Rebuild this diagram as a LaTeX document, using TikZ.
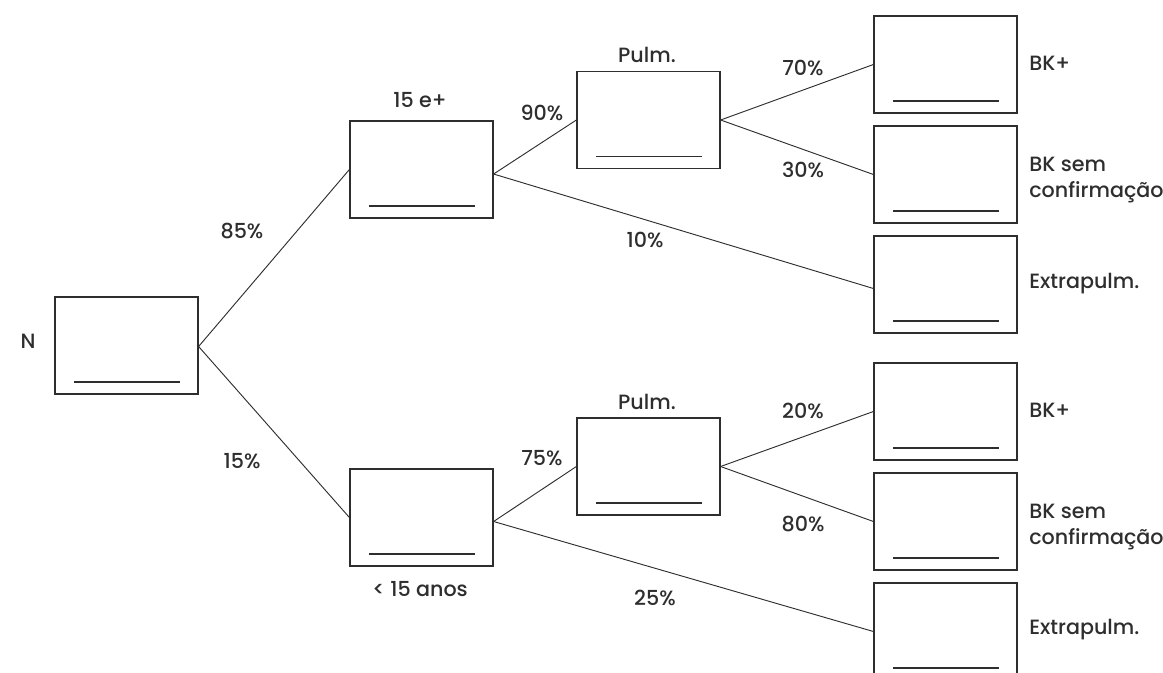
\documentclass[tikz,border=0pt]{standalone}
\usepackage{fontspec}
\setmainfont{Poppins}[UprightFont=* Medium]
\definecolor{ink}{HTML}{2E2E2E}
\begin{document}
\begin{tikzpicture}[x=0.75pt,y=-0.75pt,
  box/.style={draw=ink, line width=0.9pt, rectangle, inner sep=0pt,
    minimum width=107.25pt, minimum height=72.75pt,
    path picture={\draw[ink, line width=0.9pt]
      ([shift={(19,-12)}]path picture bounding box.south west) --
      ([shift={(-18,-12)}]path picture bounding box.south east);}},
  conn/.style={draw=ink, line width=0.7pt},
  lbl/.style={text=ink, inner sep=0pt, font=\fontsize{15.5}{19}\selectfont},
  rlbl/.style={lbl, anchor=west, align=left}]
\useasboundingbox (0,0) rectangle (1163,673);
\clip (0,0) rectangle (1163,673);
% boxes
\node[box] (n) at (126.5,345.5) {};
\node[box] (a1) at (421.5,169.5) {};
\node[box] (b1) at (421.5,517.5) {};
\node[box] (a2) at (648.5,120) {};
\node[box] (b2) at (648.5,466.5) {};
\node[box] (a3) at (945.5,64.5) {};
\node[box] (a4) at (945.5,174.5) {};
\node[box] (a5) at (945.5,284.5) {};
\node[box] (b3) at (945.5,411.5) {};
\node[box] (b4) at (945.5,521.5) {};
\node[box] (b5) at (945.5,631.5) {};
% branch points
\coordinate (na) at ([yshift=-0.75pt]n.east);
\coordinate (aa) at ([yshift=-3.4pt]a1.east);
\coordinate (bb) at ([yshift=-3pt]b1.east);
\coordinate (a2e) at (a2.east);
\coordinate (b2e) at (b2.east);
% connectors
\draw[conn] (na) -- (a1.west);
\draw[conn] (na) -- (b1.west);
\draw[conn] (aa) -- (a2.west);
\draw[conn] (aa) -- ([yshift=-3pt]a5.west);
\draw[conn] (bb) -- (b2.west);
\draw[conn] (bb) -- (b5.west);
\draw[conn] (a2e) -- (a3.west);
\draw[conn] (a2e) -- (a4.west);
\draw[conn] (b2e) -- (b3.west);
\draw[conn] (b2e) -- (b4.west);
% labels
\node[lbl] (tn) at (28,341) {N};
\node[lbl] (t85) at (242,231) {85\%};
\node[lbl] (t15) at (242,461) {15\%};
\node[lbl] (t15e) at (420,100) {15 e+};
\node[lbl] (t15a) at (420,589) {< 15 anos};
\node[lbl] (t90) at (542,113) {90\%};
\node[lbl] (t75) at (542,458) {75\%};
\node[lbl] (tp1) at (647,55) {Pulm.};
\node[lbl] (tp2) at (647,402) {Pulm.};
\node[lbl] (t70) at (803,68) {70\%};
\node[lbl] (t30) at (803,170) {30\%};
\node[lbl] (t10) at (645,240) {10\%};
\node[lbl] (t20) at (803,411) {20\%};
\node[lbl] (t80) at (803,524) {80\%};
\node[lbl] (t25) at (655,598) {25\%};
\node[rlbl] (r1) at (1029,63) {BK+};
\node[rlbl] (r2) at (1029,180) {BK sem\\confirmação};
\node[rlbl] (r3) at (1029,284) {Extrapulm.};
\node[rlbl] (r4) at (1029,410) {BK+};
\node[rlbl] (r5) at (1029,527) {BK sem\\confirmação};
\node[rlbl] (r6) at (1029,630) {Extrapulm.};
\end{tikzpicture}
\end{document}
